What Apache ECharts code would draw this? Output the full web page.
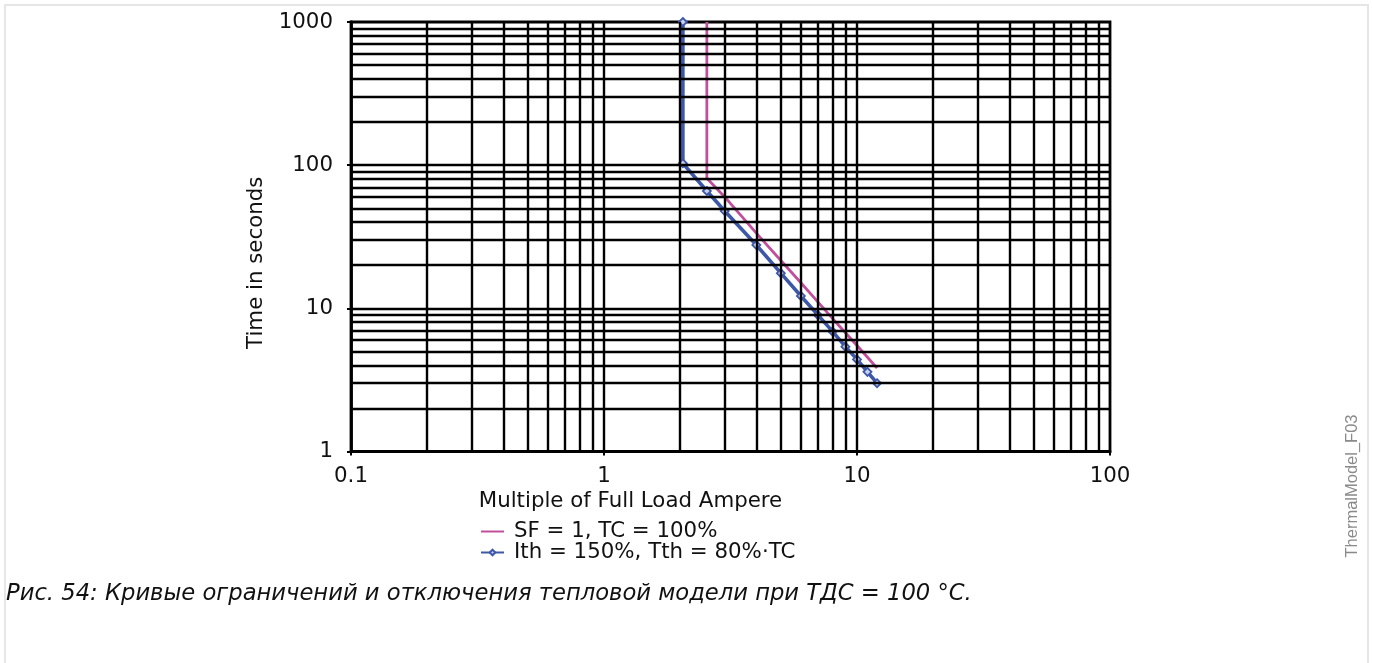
<!DOCTYPE html>
<html>
<head>
<meta charset="utf-8">
<script src="https://cdn.jsdelivr.net/npm/echarts@6/dist/echarts.min.js"></script>
<style>
  html, body { margin: 0; padding: 0; background: #fff; }
  #chart { width: 1373px; height: 663px; }
</style>
</head>
<body>
<div id="chart"></div>
<script>
// Trip curves of the thermal model: time to trip vs. multiple of full load current
const sfCurrent = [2.55, 2.55, 3, 4, 5, 6, 7, 8, 9, 10, 11, 12];
const sfTime    = [1000, 81, 60, 33.5, 21.6, 15.1, 11.1, 8.5, 6.75, 5.5, 4.55, 3.82];

const ithCurrent = [2.05, 2.05, 2.55, 3, 4, 5, 6, 7, 8, 9, 10, 11, 12];
const ithTime    = [1000, 103, 66, 47.8, 27.7, 17.6, 12.2, 9.0, 6.9, 5.4, 4.4, 3.6, 3.0];

const seriesNames = ['SF = 1, TC = 100%', 'Ith = 150%, Tth = 80%·TC'];

// Log-grid lines (decade subdivisions)
const xGridValues = [0.2, 0.3, 0.4, 0.5, 0.6, 0.7, 0.8, 0.9, 1,
                     2, 3, 4, 5, 6, 7, 8, 9, 10,
                     20, 30, 40, 50, 60, 70, 80, 90];
const yGridValues = [2, 3, 4, 5, 6, 7, 8, 9, 10,
                     20, 30, 40, 50, 60, 70, 80, 90, 100,
                     200, 300, 400, 500, 600, 700, 800, 900];

const xTickLabels = { 0.1: '0.1', 1: '1', 10: '10', 100: '100' };
const yTickLabels = { 1: '1', 10: '10', 100: '100', 1000: '1000' };

const zip = (xs, ys) => xs.map((x, i) => [x, ys[i]]);

const FONT = 'DejaVu Sans';
const FS = 21.33;
const TEXT = '#111';
const PINK = '#c0509c';
const BLUE = '#3d58a8';

const gridLines = [];
xGridValues.forEach(v => gridLines.push({ xAxis: v }));
yGridValues.forEach(v => gridLines.push({ yAxis: v }));

const chart = echarts.init(document.getElementById('chart'), null, { renderer: 'canvas' });

chart.setOption({
  animation: false,
  textStyle: { fontFamily: FONT },
  grid: {
    left: 351, right: 263, top: 22, bottom: 211.5,
    show: true, borderColor: '#000', borderWidth: 2.8,
    containLabel: false, outerBoundsMode: 'none'
  },
  xAxis: {
    type: 'log', logBase: 10, min: 0.1, max: 100,
    name: 'Multiple of Full Load Ampere',
    nameLocation: 'middle', nameGap: 35,
    nameTextStyle: { fontSize: FS, color: TEXT, fontFamily: FONT, padding: [0, 200, 0, 0] },
    axisLine: { show: true, onZero: false, lineStyle: { color: '#000', width: 2.8 } },
    axisTick: { show: true, length: 4, lineStyle: { color: '#000', width: 2 } },
    axisLabel: {
      fontSize: FS, color: TEXT, fontFamily: FONT, margin: 14,
      formatter: v => xTickLabels[+v.toPrecision(6)] ?? ''
    },
    splitLine: { show: false },
    minorTick: { show: false }, minorSplitLine: { show: false }
  },
  yAxis: {
    type: 'log', logBase: 10, min: 1, max: 1000,
    name: 'Time in seconds',
    nameLocation: 'middle', nameGap: 84, nameRotate: 90,
    nameTextStyle: { fontSize: FS, color: TEXT, fontFamily: FONT, padding: [0, 52, 0, 0] },
    axisLine: { show: true, onZero: false, lineStyle: { color: '#000', width: 2.8 } },
    axisTick: { show: true, length: 4, lineStyle: { color: '#000', width: 2 } },
    axisLabel: {
      fontSize: FS, color: TEXT, fontFamily: FONT, margin: 18,
      formatter: v => yTickLabels[+v.toPrecision(6)] ?? ''
    },
    splitLine: { show: false },
    minorTick: { show: false }, minorSplitLine: { show: false }
  },
  legend: {
    orient: 'vertical', left: 475, top: 516,
    itemGap: 0, itemWidth: 23, itemHeight: 7,
    textStyle: { fontSize: FS, color: TEXT, fontFamily: FONT, lineHeight: 19.5, padding: [0, 0, 0, 5] },
    data: [
      { name: seriesNames[0], itemStyle: { opacity: 0 } },
      { name: seriesNames[1] }
    ]
  },
  series: [
    {
      name: 'grid',
      type: 'line', data: [], z: 1, silent: true,
      markLine: {
        silent: true, symbol: ['none', 'none'], animation: false,
        label: { show: false },
        lineStyle: { color: '#000', width: 2.4, type: 'solid' },
        emphasis: { disabled: true },
        data: gridLines
      }
    },
    {
      name: seriesNames[0],
      type: 'line', z: 3,
      data: zip(sfCurrent, sfTime),
      symbol: 'none',
      lineStyle: { color: PINK, width: 2.8 },
      itemStyle: { color: PINK }
    },
    {
      name: seriesNames[1],
      type: 'line', z: 4,
      data: zip(ithCurrent, ithTime),
      symbol: 'diamond', symbolSize: 8, showSymbol: true,
      lineStyle: { color: BLUE, width: 3.6 },
      itemStyle: { color: '#c9d1ee', borderColor: BLUE, borderWidth: 1.8 }
    }
  ],
  graphic: [
    {
      type: 'rect', silent: true, z: -10,
      shape: { x: 5, y: 5, width: 1363, height: 720 },
      style: { fill: 'none', stroke: '#e6e6e6', lineWidth: 2 }
    },
    {
      type: 'text', silent: true,
      x: 1352, y: 486, rotation: Math.PI / 2,
      style: {
        text: 'ThermalModel_F03', fill: '#8a8a8a',
        font: '16.5px "Liberation Sans"', align: 'center', verticalAlign: 'middle'
      }
    },
    {
      type: 'text', silent: true,
      x: 6, y: 594,
      style: {
        text: 'Рис. 54: Кривые ограничений и отключения тепловой модели при ТДС = 100 °C.',
        fill: '#111', font: 'italic 22.67px "DejaVu Sans"', align: 'left', verticalAlign: 'middle'
      }
    }
  ]
});
</script>
</body>
</html>
